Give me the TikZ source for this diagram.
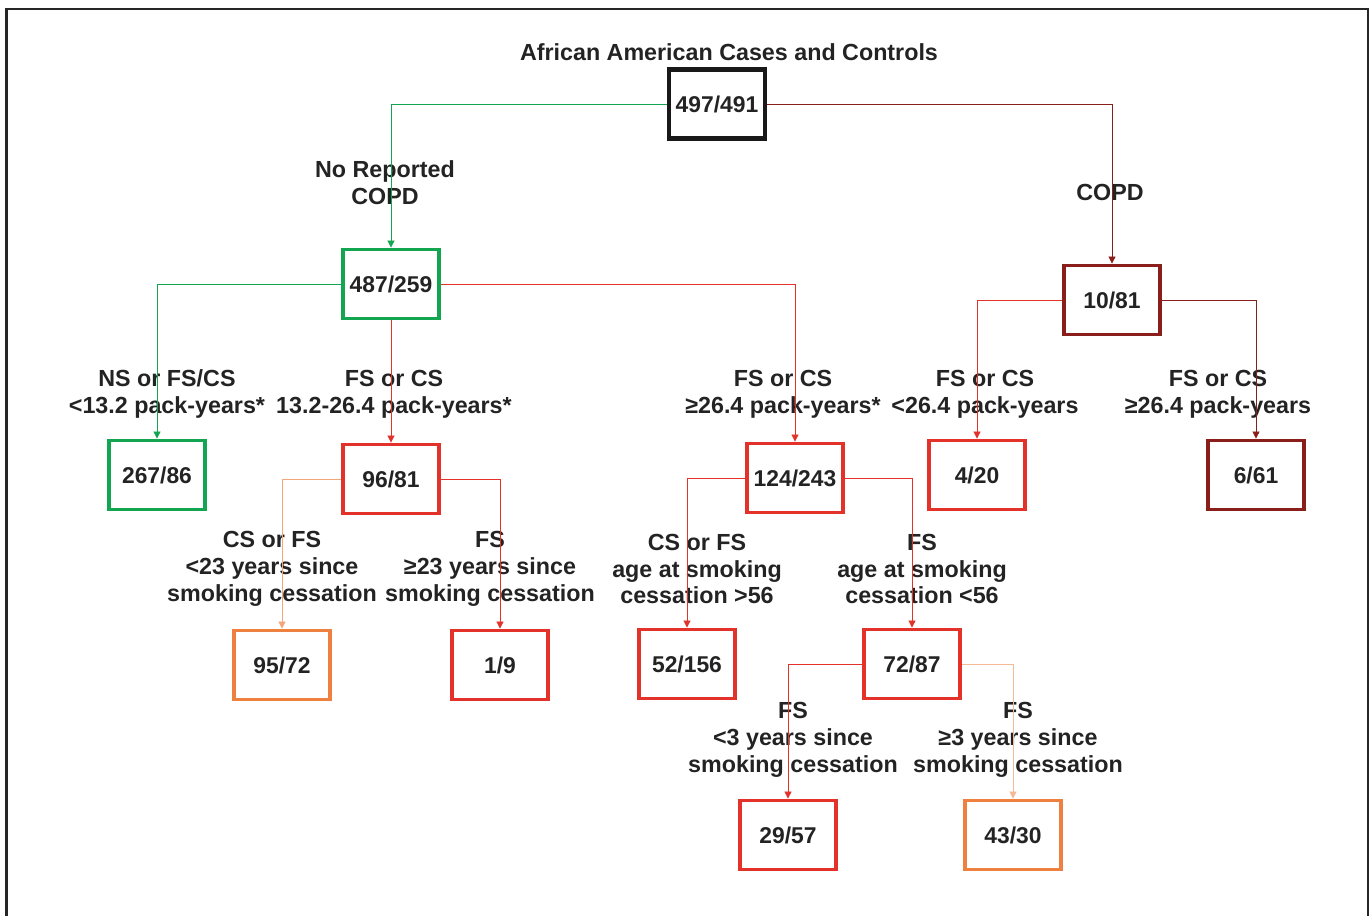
\documentclass[tikz,border=0pt]{standalone}
\usepackage{fontspec}
\setmainfont{Liberation Sans}
\usetikzlibrary{arrows.meta}

\definecolor{cgreen}{RGB}{20,165,80}
\definecolor{cred}{RGB}{226,50,42}
\definecolor{cdark}{RGB}{138,30,26}
\definecolor{corange}{RGB}{238,128,64}
\definecolor{ctext}{RGB}{35,35,35}

\begin{document}
\begin{tikzpicture}[x=0.2mm, y=-0.2mm,
    box/.style={rectangle, minimum width=1.92cm, minimum height=1.38cm, line width=2.2pt,
        text=ctext, font=\fontsize{13}{15}\selectfont\bfseries, inner sep=0pt},
    lbl/.style={align=center, text=ctext, font=\fontsize{13.25}{15.3}\selectfont\bfseries, inner sep=0pt},
    link/.style={line width=0.5pt, -{Triangle[length=4pt,width=4pt]}}]
    \useasboundingbox (0,0) rectangle (1370,916);
    \draw[line width=1.3pt, black!85] (6.5,916) |- (1368,9) -- (1368,916);

    % boxes
    \node[box, draw=black!90, line width=2.6pt] (n497) at (717, 104) {497/491};
    \node[box, draw=cgreen] (n487) at (391, 284) {487/259};
    \node[box, draw=cdark] (n10) at (1112, 300) {10/81};
    \node[box, draw=cgreen] (n267) at (157, 475) {267/86};
    \node[box, draw=cred] (n96) at (391, 479) {96/81};
    \node[box, draw=cred] (n124) at (795, 478) {124/243};
    \node[box, draw=cred] (n4) at (977, 475) {4/20};
    \node[box, draw=cdark] (n6) at (1256, 475) {6/61};
    \node[box, draw=corange] (n95) at (282, 665) {95/72};
    \node[box, draw=cred] (n1) at (500, 665) {1/9};
    \node[box, draw=cred] (n52) at (687, 664) {52/156};
    \node[box, draw=cred] (n72) at (912, 664) {72/87};
    \node[box, draw=cred] (n29) at (788, 835) {29/57};
    \node[box, draw=corange] (n43) at (1013, 835) {43/30};

    % labels
    \node[lbl] (title) at (729, 52) {African American Cases and Controls};
    \node[lbl] (lnocopd) at (385, 183) {No Reported\\COPD};
    \node[lbl] (lcopd) at (1110, 192) {COPD};
    \node[lbl] (lns) at (167, 394) {NS or FS/CS\\<13.2 pack-years*};
    \node[lbl] (lmid) at (394, 394) {FS or CS\\13.2-26.4 pack-years*};
    \node[lbl] (lhigh) at (783, 394) {FS or CS\\≥26.4 pack-years*};
    \node[lbl] (lclow) at (985, 394) {FS or CS\\<26.4 pack-years};
    \node[lbl] (lchigh) at (1218, 394) {FS or CS\\≥26.4 pack-years};
    \node[lbl] (l23lo) at (272, 569) {CS or FS\\<23 years since\\smoking cessation};
    \node[lbl] (l23hi) at (490, 569) {FS\\≥23 years since\\smoking cessation};
    \node[lbl] (lage56hi) at (697, 569) {CS or FS\\age at smoking\\cessation >56};
    \node[lbl] (lage56lo) at (922, 569) {FS\\age at smoking\\cessation <56};
    \node[lbl] (l3lo) at (793, 740) {FS\\<3 years since\\smoking cessation};
    \node[lbl] (l3hi) at (1018, 740) {FS\\≥3 years since\\smoking cessation};

    % connectors
    \draw[link, cgreen] (n497.west) -| (n487.north);
    \draw[link, cdark] (n497.east) -| (n10.north);
    \draw[link, cgreen] (n487.west) -| (n267.north);
    \draw[link, cred] (n487.south) -- (n96.north);
    \draw[link, cred] (n487.east) -| (n124.north);
    \draw[link, cred] (n10.west) -| (n4.north);
    \draw[link, cdark] (n10.east) -| (n6.north);
    \draw[link, corange!70] (n96.west) -| (n95.north);
    \draw[link, cred] (n96.east) -| (n1.north);
    \draw[link, cred] (n124.west) -| (n52.north);
    \draw[link, cred] (n124.east) -| (n72.north);
    \draw[link, cred] (n72.west) -| (n29.north);
    \draw[link, corange!55] (n72.east) -| (n43.north);
\end{tikzpicture}
\end{document}
